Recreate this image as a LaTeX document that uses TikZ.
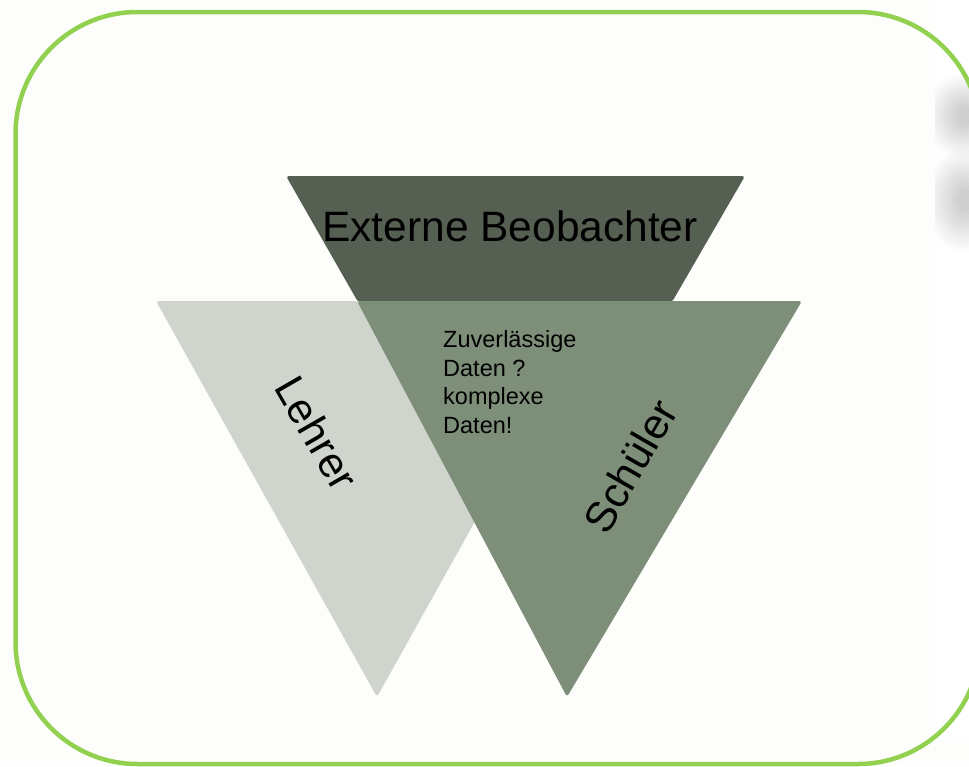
\documentclass[tikz,border=0pt]{standalone}
\usepackage{fontspec}
\setmainfont{Liberation Sans}
\definecolor{bgc}{HTML}{FDFDFB}
\definecolor{framegreen}{HTML}{92D050}
\definecolor{darkgg}{HTML}{566052}
\definecolor{midgg}{HTML}{7E8F79}
\definecolor{lightgg}{HTML}{CFD4CD}
\tikzset{
  tri/.style={rounded corners=3pt},
  bigtxt/.style={font=\fontsize{42.5}{50}\selectfont, inner sep=0pt},
  smalltxt/.style={font=\fontsize{23.5}{28.5}\selectfont, inner sep=0pt, align=left},
  blurlayer/.style={black, opacity=0.016}
}
\begin{document}
\begin{tikzpicture}[x=1pt,y=-1pt]
\useasboundingbox (0,0) rectangle (969,766);
\fill[bgc] (0,0) rectangle (969,766);
% right strip with blurred shadow
\begin{scope}
  \clip (935,0) rectangle (969,766);
  \fill[white] (935,0) rectangle (969,738);
  \foreach \i in {1,...,12} {
    \fill[blurlayer] (965,116) ellipse [x radius={3*\i+4}, y radius={3*\i+6}];
    \fill[blurlayer] (965,200) ellipse [x radius={3*\i+4}, y radius={3.6*\i+8}];
  }
\end{scope}
% frame
\draw[framegreen, line width=4.5pt, rounded corners=122pt] (15.5,12) rectangle (980,764);
% triangles
\fill[darkgg, tri] (286,176) -- (745,176) -- (672,302) -- (358,302) -- cycle;
\fill[lightgg, tri] (156,301) -- (598,301) -- (377,697) -- cycle;
\fill[midgg, tri] (357,301) -- (802,301) -- (567,697) -- cycle;
% texts
\node[bigtxt, anchor=base] (ext) at (510,241) {Externe Beobachter};
\node[bigtxt, rotate=-60] (leh) at (317,433) {Lehrer};
\node[bigtxt, rotate=60] (sch) at (630,466) {Schüler};
\node[smalltxt, anchor=base west] (dat) at (443,433) {Zuverlässige\\Daten ?\\komplexe\\Daten!};
\end{tikzpicture}
\end{document}
